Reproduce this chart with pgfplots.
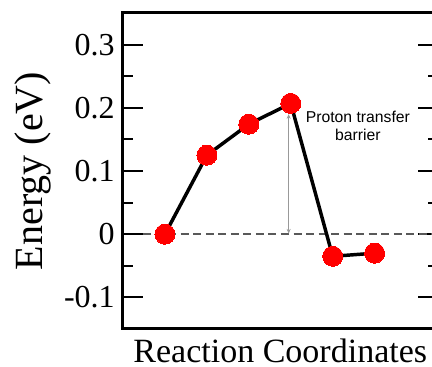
\documentclass[border=0pt]{standalone}
\usepackage{fontspec}
\setmainfont{Liberation Serif}
\newfontfamily\annofont{Liberation Sans}
\usepackage{pgfplots}
\pgfplotsset{compat=1.18}
\usetikzlibrary{arrows.meta}

\begin{document}
\begin{tikzpicture}
\begin{axis}[
  at={(0,0)}, anchor=south west,
  scale only axis,
  width=235.9pt, height=237pt,
  xmin=0, xmax=7.5,
  ymin=-0.15, ymax=0.35,
  xtick=\empty,
  ytick={-0.1,0,0.1,0.2,0.3},
  yticklabels={-0.1,0,0.1,0.2,0.3},
  minor ytick={-0.05,0.05,0.15,0.25},
  tick align=inside,
  ytick pos=both,
  major tick length=15pt,
  minor tick length=7.5pt,
  every tick/.style={black, line width=1.5pt},
  axis line style={line width=2.25pt},
  yticklabel style={font=\fontsize{24}{28}\selectfont, inner sep=0pt, xshift=-6pt},
  yticklabel pos=left,
  ylabel={Energy (eV)},
  ylabel style={font=\fontsize{30}{36}\selectfont, at={(axis description cs:-0.2878,0.5)}, anchor=center, rotate=0},
  xlabel={Reaction Coordinates},
  xlabel style={font=\fontsize{25.5}{30}\selectfont, inner sep=0pt, at={(axis description cs:0.5,0)}, anchor=base, yshift=-25pt},
  clip=false,
]
% zero-energy reference
\addplot[color=black!65, line width=1.5pt, dash pattern=on 6pt off 3.4pt] coordinates {(0.48,0) (7.5,0)};
% barrier arrow
\draw[black!40, line width=0.8pt, {Stealth[length=3.5pt,width=3pt]}-{Stealth[length=3.5pt,width=3pt]}]
  (axis cs:3.95,0.001) -- (axis cs:3.95,0.19);
% energy profile
\addplot[black, line width=2.6pt, mark=*, mark size=7.5pt,
  mark options={draw=red, fill=red, line width=0pt}]
  coordinates {(1,0) (2,0.125) (3,0.174) (4,0.207) (5,-0.035) (6,-0.030)};
\node[font=\annofont\fontsize{11.8}{13.6}\selectfont, align=center] at (axis cs:5.6,0.171) {Proton transfer\\barrier};
\end{axis}
\pgfresetboundingbox
\path[use as bounding box] (-92.25pt,-28.5pt) rectangle (231.75pt,246.75pt);
\end{tikzpicture}
\end{document}
